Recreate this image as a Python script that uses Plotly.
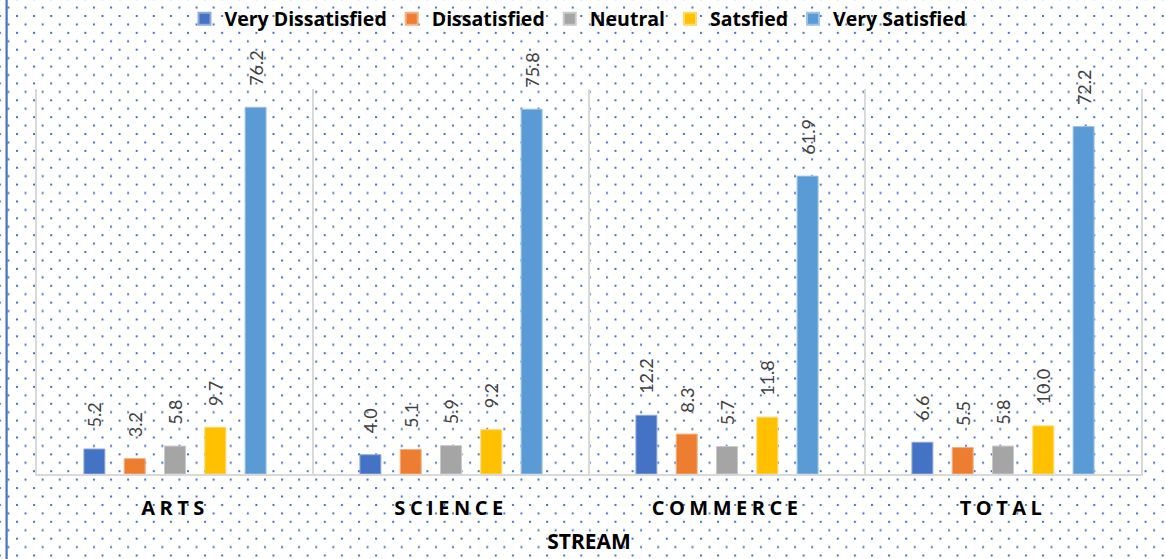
import plotly.graph_objects as go
import base64

categories = ["ARTS", "SCIENCE", "COMMERCE", "TOTAL"]
very_dissatisfied = [5.2, 4.0, 12.2, 6.6]
dissatisfied = [3.2, 5.1, 8.3, 5.5]
neutral = [5.8, 5.9, 5.7, 5.8]
satisfied = [9.7, 9.2, 11.8, 10.0]
very_satisfied = [76.2, 75.8, 61.9, 72.2]

series_names = ["Very Dissatisfied", "Dissatisfied", "Neutral", "Satsfied", "Very Satisfied"]
series_values = [very_dissatisfied, dissatisfied, neutral, satisfied, very_satisfied]
colors = ["#4472C4", "#ED7D31", "#A5A5A5", "#FFC000", "#5B9BD5"]
edge = ["#8FAADC", "#F4B183", "#C9C9C9", "#FFD966", "#9DC3E6"]

W, H = 1165, 559
L, R, T, B = 37, 24, 89, 85
PW, PH = W - L - R, H - T - B

FONT = "Lato"
BOLD = "Open Sans"

fig = go.Figure()
for name, vals, c, e in zip(series_names, series_values, colors, edge):
    fig.add_trace(go.Bar(
        x=categories, y=vals, name=name,
        marker=dict(color=c, line=dict(color=e, width=1)),
        texttemplate="\u00a0\u00a0\u00a0\u00a0%{y:.1f}",
        textposition="outside", textangle=-90,
        textfont=dict(family=FONT, size=18, color="#404040"),
        constraintext="none", cliponaxis=False,
    ))

# dotted background pattern + left border (decoration)
svg = (
    f"<svg xmlns='http://www.w3.org/2000/svg' width='{W}' height='{H}'>"
    "<defs><pattern id='p' patternUnits='userSpaceOnUse' x='16' y='15' width='17.1' height='16.86'>"
    "<rect x='0' y='0' width='2' height='2' fill='#4472C4'/>"
    "<rect x='8.55' y='8.43' width='2' height='2' fill='#4472C4'/>"
    "</pattern></defs>"
    f"<rect width='{W}' height='{H}' fill='white'/>"
    f"<rect width='{W}' height='{H}' fill='url(#p)'/>"
    f"<rect x='5.5' y='0' width='2.2' height='{H}' fill='#4472C4'/>"
    "</svg>"
)
src = "data:image/svg+xml;base64," + base64.b64encode(svg.encode()).decode()
fig.add_layout_image(dict(
    source=src, xref="paper", yref="paper",
    x=-L / PW, y=1 + T / PH, sizex=W / PW, sizey=H / PH,
    xanchor="left", yanchor="top", sizing="stretch", layer="below",
))

fig.update_layout(
    width=W, height=H,
    margin=dict(l=L, r=R, t=T, b=B, pad=0, autoexpand=False),
    paper_bgcolor="white", plot_bgcolor="rgba(0,0,0,0)",
    barmode="group", bargap=0.27, bargroupgap=0.48,
    font=dict(family=FONT, color="#000000"),
    legend=dict(
        orientation="h", x=(578 - L) / PW, xanchor="center",
        y=1 + (T - 19) / PH, yanchor="middle",
        font=dict(family=BOLD, size=19.5, color="#000000", weight="bold"),
        bgcolor="rgba(0,0,0,0)", itemsizing="constant", tracegroupgap=0,
    ),
    xaxis=dict(
        type="category", tickson="boundaries", showgrid=True,
        gridcolor="#D9D9D9", gridwidth=1.5,
        showline=True, linecolor="#D9D9D9", linewidth=2,
        ticks="", ticklabelstandoff=15,
        tickfont=dict(family=BOLD, size=20, color="#000000", weight="bold"),
        title=dict(text="STREAM", standoff=14,
                   font=dict(family=BOLD, size=21, color="#000000", weight="bold")),
        zeroline=False,
    ),
    yaxis=dict(
        range=[0, 80], showgrid=False, showticklabels=False, ticks="",
        showline=True, linecolor="#D9D9D9", linewidth=1.5, mirror=True,
        zeroline=False,
    ),
)

post = ("document.body.style.margin='0';"
        "document.querySelectorAll('.xtick text').forEach(function(t){t.style.letterSpacing='4.5px';});")
fig.write_html("out.html", post_script=post, config={"displayModeBar": False})
